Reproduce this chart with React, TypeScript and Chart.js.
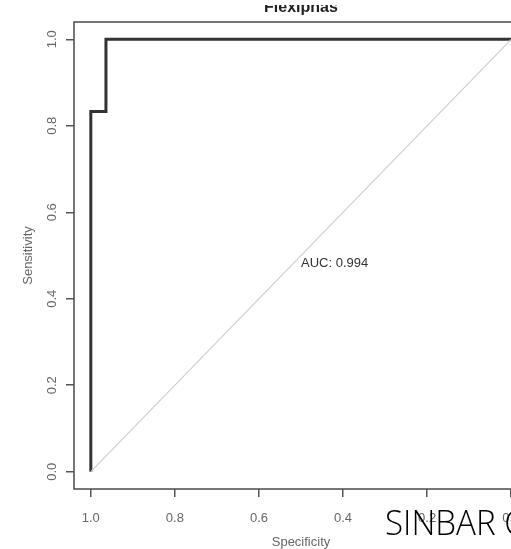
import React, { useEffect, useRef } from "react";
import { Chart, registerables } from "chart.js";

Chart.register(...registerables);

const chartTitle = "Flexiphas";
const xAxisTitle = "Specificity";
const yAxisTitle = "Sensitivity";
const tickValues = [0, 0.2, 0.4, 0.6, 0.8, 1.0];
const rocSpecificity = [1.0, 1.0, 0.964, 0.964, 0.0];
const rocSensitivity = [0.0, 0.833, 0.833, 1.0, 1.0];
const diagSpecificity = [1.0, 0.0];
const diagSensitivity = [0.0, 1.0];
const aucValue = "0.994";
const aucPos = [0.5, 0.5];
const watermark = "SINBAR C";

const CANVAS_W = 602;
const CANVAS_H = 549;

export default function App() {
  const ref = useRef<HTMLCanvasElement | null>(null);

  useEffect(() => {
    const canvas = ref.current;
    if (!canvas) return;

    const boxPlugin = {
      id: "rbox",
      afterDatasetsDraw(chart: any) {
        const { ctx, chartArea, scales } = chart;
        ctx.save();
        ctx.strokeStyle = "#555";
        ctx.lineWidth = 1.6;
        ctx.strokeRect(chartArea.left, chartArea.top, chartArea.right - chartArea.left, chartArea.bottom - chartArea.top);
        ctx.fillStyle = "#333";
        ctx.font = "13px 'Liberation Sans', Arial, sans-serif";
        ctx.textAlign = "left";
        ctx.textBaseline = "top";
        ctx.fillText(
          "AUC: " + aucValue,
          scales.x.getPixelForValue(aucPos[0]),
          scales.y.getPixelForValue(aucPos[1]) + 1.5
        );
        ctx.restore();
      },
      afterDraw(chart: any) {
        const { ctx } = chart;
        ctx.save();
        ctx.fillStyle = "#fff";
        ctx.fillRect(0, 0, chart.width, 5);
        ctx.restore();
      },
    };

    const tickSetter = (scale: any) => {
      scale.ticks = tickValues.map((v) => ({ value: v }));
    };

    const chart = new Chart(canvas, {
      type: "line",
      data: {
        datasets: [
          {
            label: "diag",
            data: diagSpecificity.map((x, i) => ({ x, y: diagSensitivity[i] })),
            borderColor: "#cfcfcf",
            borderWidth: 1.2,
            pointRadius: 0,
            fill: false,
            tension: 0,
          },
          {
            label: "ROC",
            data: rocSpecificity.map((x, i) => ({ x, y: rocSensitivity[i] })),
            borderColor: "#333",
            borderWidth: 3,
            pointRadius: 0,
            fill: false,
            tension: 0,
          },
        ],
      },
      options: {
        responsive: false,
        maintainAspectRatio: false,
        animation: false,
        layout: { padding: { left: 0, right: 74, top: 0, bottom: 0 } },
        plugins: {
          legend: { display: false },
          tooltip: { enabled: false },
          title: {
            display: true,
            fullSize: false,
            text: chartTitle,
            color: "#222",
            font: { family: "'Liberation Sans', Arial, sans-serif", size: 16, weight: "bold", lineHeight: 1.2 },
            padding: { top: -1.7, bottom: 4.5 },
          },
        },
        scales: {
          x: {
            type: "linear",
            reverse: true,
            min: -0.04,
            max: 1.04,
            afterBuildTicks: tickSetter,
            afterFit: (s: any) => {
              s.height = 60;
            },
            border: { display: false },
            grid: {
              display: true,
              drawOnChartArea: false,
              drawTicks: true,
              tickLength: 8,
              color: "#555",
              lineWidth: 1.5,
            },
            ticks: {
              color: "#666",
              font: { family: "'Liberation Sans', Arial, sans-serif", size: 13 },
              padding: 14,
              maxRotation: 0,
              minRotation: 0,
              autoSkip: false,
              callback: (v: any) => Number(v).toFixed(1),
            },
            title: {
              display: true,
              text: xAxisTitle,
              color: "#666",
              font: { family: "'Liberation Sans', Arial, sans-serif", size: 13, lineHeight: 1.2 },
              padding: { top: 0, bottom: -1 },
            },
          },
          y: {
            type: "linear",
            min: -0.04,
            max: 1.04,
            afterBuildTicks: tickSetter,
            afterFit: (s: any) => {
              s.width = 74;
            },
            border: { display: false },
            grid: {
              display: true,
              drawOnChartArea: false,
              drawTicks: true,
              tickLength: 8,
              color: "#555",
              lineWidth: 1.5,
            },
            ticks: {
              color: "#666",
              font: { family: "'Liberation Sans', Arial, sans-serif", size: 13 },
              padding: 5,
              minRotation: 90,
              maxRotation: 90,
              crossAlign: "center",
              autoSkip: false,
              callback: (v: any) => Number(v).toFixed(1),
            },
            title: {
              display: true,
              text: yAxisTitle,
              color: "#666",
              font: { family: "'Liberation Sans', Arial, sans-serif", size: 13, lineHeight: 1.2 },
              padding: { top: 21, bottom: 0 },
            },
          },
        },
      },
      plugins: [boxPlugin],
    } as any);

    return () => chart.destroy();
  }, []);

  return (
    <div
      style={{
        position: "fixed",
        left: 0,
        top: 0,
        width: 511,
        height: 549,
        overflow: "hidden",
        background: "#fff",
      }}
    >
      <canvas
        ref={ref}
        width={CANVAS_W}
        height={CANVAS_H}
        style={{ display: "block", width: CANVAS_W, height: CANVAS_H }}
      />
      <span
        style={{
          position: "absolute",
          left: 385,
          top: 504,
          fontFamily: "'Open Sans', sans-serif",
          fontWeight: 300,
          fontSize: 35,
          lineHeight: "35px",
          color: "#000",
          whiteSpace: "nowrap",
          transform: "scaleX(0.947)",
          transformOrigin: "0 0",
        }}
      >
        {watermark}
      </span>
    </div>
  );
}
